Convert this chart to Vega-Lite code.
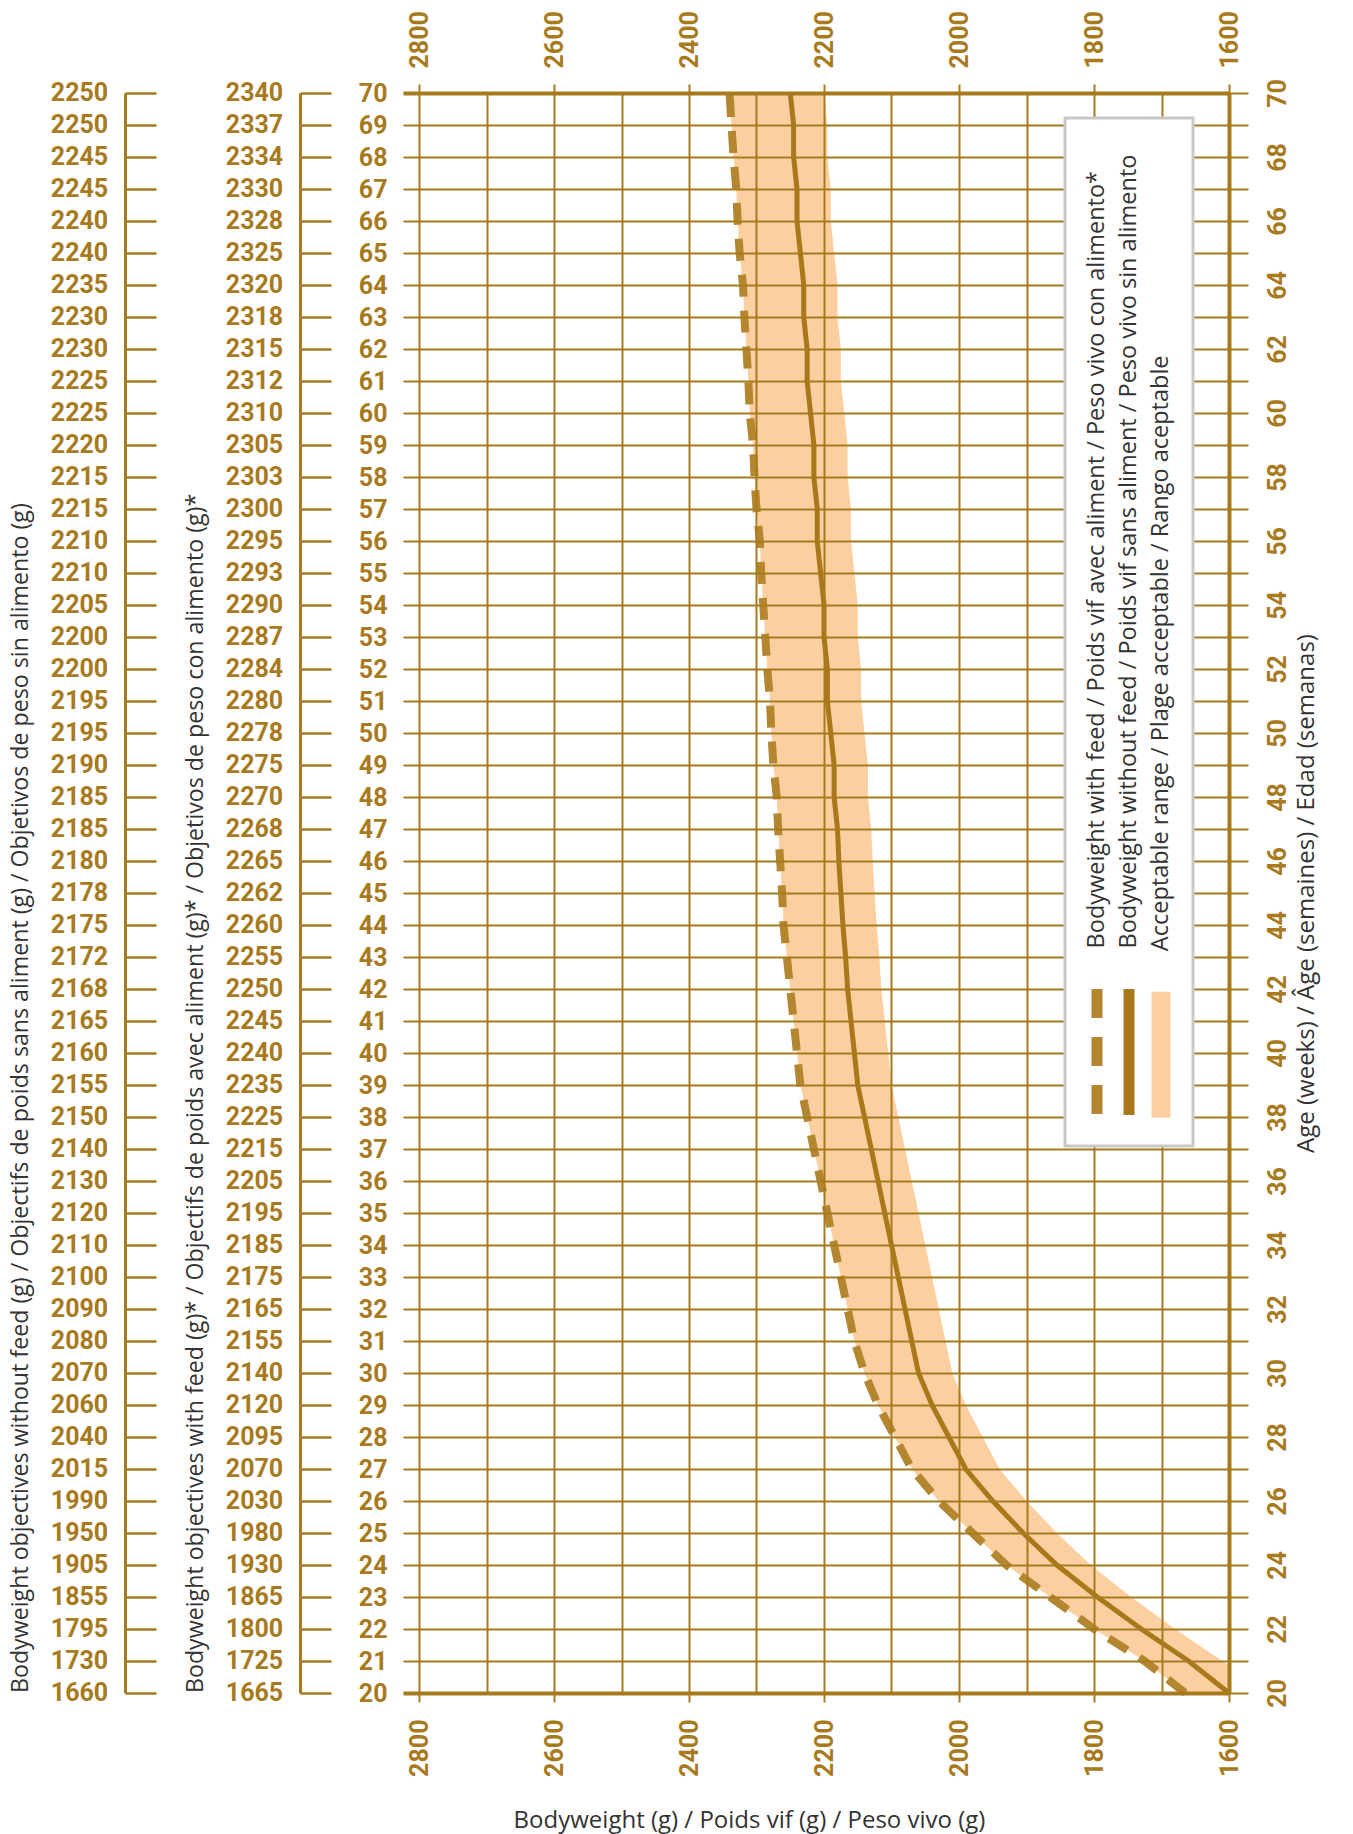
{
  "$schema": "https://vega.github.io/schema/vega-lite/v6.json",
  "padding": {"left": 8, "top": 10, "right": 5, "bottom": 5},
  "background": "white",
  "datasets": {
    "weights": [
      {"age": 20, "avec": 1665, "sans": 1660, "line": 1600, "lo": 1550},
      {"age": 21, "avec": 1725, "sans": 1730, "line": 1660, "lo": 1610},
      {"age": 22, "avec": 1800, "sans": 1795, "line": 1730, "lo": 1680},
      {"age": 23, "avec": 1865, "sans": 1855, "line": 1795, "lo": 1745},
      {"age": 24, "avec": 1930, "sans": 1905, "line": 1855, "lo": 1805},
      {"age": 25, "avec": 1980, "sans": 1950, "line": 1905, "lo": 1855},
      {"age": 26, "avec": 2030, "sans": 1990, "line": 1950, "lo": 1900},
      {"age": 27, "avec": 2070, "sans": 2015, "line": 1990, "lo": 1940},
      {"age": 28, "avec": 2095, "sans": 2040, "line": 2015, "lo": 1965},
      {"age": 29, "avec": 2120, "sans": 2060, "line": 2040, "lo": 1990},
      {"age": 30, "avec": 2140, "sans": 2070, "line": 2060, "lo": 2010},
      {"age": 31, "avec": 2155, "sans": 2080, "line": 2070, "lo": 2020},
      {"age": 32, "avec": 2165, "sans": 2090, "line": 2080, "lo": 2030},
      {"age": 33, "avec": 2175, "sans": 2100, "line": 2090, "lo": 2040},
      {"age": 34, "avec": 2185, "sans": 2110, "line": 2100, "lo": 2050},
      {"age": 35, "avec": 2195, "sans": 2120, "line": 2110, "lo": 2060},
      {"age": 36, "avec": 2205, "sans": 2130, "line": 2120, "lo": 2070},
      {"age": 37, "avec": 2215, "sans": 2140, "line": 2130, "lo": 2080},
      {"age": 38, "avec": 2225, "sans": 2150, "line": 2140, "lo": 2090},
      {"age": 39, "avec": 2235, "sans": 2155, "line": 2150, "lo": 2100},
      {"age": 40, "avec": 2240, "sans": 2160, "line": 2155, "lo": 2105},
      {"age": 41, "avec": 2245, "sans": 2165, "line": 2160, "lo": 2110},
      {"age": 42, "avec": 2250, "sans": 2168, "line": 2165, "lo": 2115},
      {"age": 43, "avec": 2255, "sans": 2172, "line": 2168, "lo": 2118},
      {"age": 44, "avec": 2260, "sans": 2175, "line": 2172, "lo": 2122},
      {"age": 45, "avec": 2262, "sans": 2178, "line": 2175, "lo": 2125},
      {"age": 46, "avec": 2265, "sans": 2180, "line": 2178, "lo": 2128},
      {"age": 47, "avec": 2268, "sans": 2185, "line": 2180, "lo": 2130},
      {"age": 48, "avec": 2270, "sans": 2185, "line": 2185, "lo": 2135},
      {"age": 49, "avec": 2275, "sans": 2190, "line": 2185, "lo": 2135},
      {"age": 50, "avec": 2278, "sans": 2195, "line": 2190, "lo": 2140},
      {"age": 51, "avec": 2280, "sans": 2195, "line": 2195, "lo": 2145},
      {"age": 52, "avec": 2284, "sans": 2200, "line": 2195, "lo": 2145},
      {"age": 53, "avec": 2287, "sans": 2200, "line": 2200, "lo": 2150},
      {"age": 54, "avec": 2290, "sans": 2205, "line": 2200, "lo": 2150},
      {"age": 55, "avec": 2293, "sans": 2210, "line": 2205, "lo": 2155},
      {"age": 56, "avec": 2295, "sans": 2210, "line": 2210, "lo": 2160},
      {"age": 57, "avec": 2300, "sans": 2215, "line": 2210, "lo": 2160},
      {"age": 58, "avec": 2303, "sans": 2215, "line": 2215, "lo": 2165},
      {"age": 59, "avec": 2305, "sans": 2220, "line": 2215, "lo": 2165},
      {"age": 60, "avec": 2310, "sans": 2225, "line": 2220, "lo": 2170},
      {"age": 61, "avec": 2312, "sans": 2225, "line": 2225, "lo": 2175},
      {"age": 62, "avec": 2315, "sans": 2230, "line": 2225, "lo": 2175},
      {"age": 63, "avec": 2318, "sans": 2230, "line": 2230, "lo": 2180},
      {"age": 64, "avec": 2320, "sans": 2235, "line": 2230, "lo": 2180},
      {"age": 65, "avec": 2325, "sans": 2240, "line": 2235, "lo": 2185},
      {"age": 66, "avec": 2328, "sans": 2240, "line": 2240, "lo": 2190},
      {"age": 67, "avec": 2330, "sans": 2245, "line": 2240, "lo": 2190},
      {"age": 68, "avec": 2334, "sans": 2245, "line": 2245, "lo": 2195},
      {"age": 69, "avec": 2337, "sans": 2250, "line": 2245, "lo": 2195},
      {"age": 70, "avec": 2340, "sans": 2250, "line": 2250, "lo": 2200}
    ]
  },
  "data": {"name": "weights"},
  "config": {
    "view": {"stroke": null},
    "axis": {
      "labelFont": "Roboto",
      "labelFontWeight": "bold",
      "labelFontSize": 25,
      "labelColor": "#A87A1E",
      "titleFont": "Open Sans",
      "titleFontSize": 24,
      "titleFontWeight": "normal",
      "titleColor": "#333333",
      "gridColor": "#A87A1E",
      "gridOpacity": 1,
      "tickColor": "#A87A1E",
      "domain": false
    }
  },
  "spacing": 25,
  "resolve": {"scale": {"color": "independent"}, "legend": {"color": "independent"}},
  "hconcat": [
    {
      "width": 91,
      "height": 1600,
      "title": {
        "text": "Bodyweight objectives without feed (g) / Objectifs de poids sans aliment (g) / Objetivos de peso sin alimento (g)",
        "orient": "left",
        "anchor": "start",
        "frame": "group",
        "font": "Open Sans",
        "fontSize": 23.2,
        "fontWeight": "normal",
        "color": "#333333",
        "offset": 1
      },
      "mark": {"type": "text", "font": "Roboto", "fontSize": 25, "fontWeight": "bold", "color": "#A87A1E", "baseline": "middle"},
      "encoding": {
        "y": {
          "field": "age",
          "type": "quantitative",
          "scale": {"domain": [20, 70], "nice": false, "zero": false},
          "axis": {
            "orient": "right",
            "values": [20,21,22,23,24,25,26,27,28,29,30,31,32,33,34,35,36,37,38,39,40,41,42,43,44,45,46,47,48,49,50,51,52,53,54,55,56,57,58,59,60,61,62,63,64,65,66,67,68,69,70],
            "labels": false,
            "title": null,
            "grid": false,
            "domain": true,
            "domainColor": "#A87A1E",
            "domainWidth": 3,
            "ticks": true,
            "tickSize": 31,
            "tickWidth": 2.5
          }
        },
        "text": {"field": "sans", "type": "quantitative", "format": "d"}
      }
    },
    {
      "width": 91,
      "height": 1600,
      "title": {
        "text": "Bodyweight objectives with feed (g)* / Objectifs de poids avec aliment (g)* / Objetivos de peso con alimento (g)*",
        "orient": "left",
        "anchor": "start",
        "frame": "group",
        "font": "Open Sans",
        "fontSize": 23.2,
        "fontWeight": "normal",
        "color": "#333333",
        "offset": 1
      },
      "mark": {"type": "text", "font": "Roboto", "fontSize": 25, "fontWeight": "bold", "color": "#A87A1E", "baseline": "middle"},
      "encoding": {
        "y": {
          "field": "age",
          "type": "quantitative",
          "scale": {"domain": [20, 70], "nice": false, "zero": false},
          "axis": {
            "orient": "right",
            "values": [20,21,22,23,24,25,26,27,28,29,30,31,32,33,34,35,36,37,38,39,40,41,42,43,44,45,46,47,48,49,50,51,52,53,54,55,56,57,58,59,60,61,62,63,64,65,66,67,68,69,70],
            "labels": false,
            "title": null,
            "grid": false,
            "domain": true,
            "domainColor": "#A87A1E",
            "domainWidth": 3,
            "ticks": true,
            "tickSize": 31,
            "tickWidth": 2.5
          }
        },
        "text": {"field": "avec", "type": "quantitative", "format": "d"}
      }
    },
    {
      "width": 810,
      "height": 1600,
      "resolve": {"axis": {"x": "independent", "y": "independent"}},
      "layer": [
        {
          "mark": {"type": "area", "orient": "horizontal", "clip": true, "opacity": 1},
          "encoding": {
            "y": {
              "field": "age",
              "type": "quantitative",
              "scale": {"domain": [20, 70], "nice": false, "zero": false},
              "axis": {
                "orient": "left",
                "zindex": 1,
                "values": [20,21,22,23,24,25,26,27,28,29,30,31,32,33,34,35,36,37,38,39,40,41,42,43,44,45,46,47,48,49,50,51,52,53,54,55,56,57,58,59,60,61,62,63,64,65,66,67,68,69,70],
                "format": "d",
                "title": null,
                "grid": true,
                "gridWidth": {"condition": {"test": "datum.value === 20 || datum.value === 70", "value": 4}, "value": 2},
                "tickSize": 16,
                "tickWidth": {"condition": {"test": "datum.value === 20 || datum.value === 70", "value": 4}, "value": 2},
                "labelPadding": 16,
                "labelOverlap": false
              }
            },
            "x": {
              "field": "avec",
              "type": "quantitative",
              "stack": null,
              "scale": {"domain": [1600, 2800], "reverse": true, "nice": false, "zero": false},
              "axis": {
                "orient": "bottom",
                "zindex": 1,
                "values": [1600,1700,1800,1900,2000,2100,2200,2300,2400,2500,2600,2700,2800],
                "format": "d",
                "grid": true,
                "gridWidth": {"condition": {"test": "datum.value === 1600", "value": 4}, "value": 2},
                "tickSize": 9,
                "tickWidth": 2,
                "tickOpacity": {"condition": {"test": "datum.value % 200 === 0", "value": 1}, "value": 0},
                "labelExpr": "datum.value % 200 === 0 ? datum.label : ''",
                "labelAngle": 270,
                "labelPadding": 17,
                "labelOverlap": false,
                "title": "Bodyweight (g) / Poids vif (g) / Peso vivo (g)",
                "titleX": 330,
                "titleY": 134,
                "titleAlign": "center",
                "titleBaseline": "alphabetic"
              }
            },
            "x2": {"field": "lo"},
            "color": {
              "datum": "Acceptable range / Plage acceptable / Rango aceptable",
              "type": "nominal",
              "scale": {
                "domain": [
                  "Bodyweight with feed / Poids vif avec aliment / Peso vivo con alimento*",
                  "Bodyweight without feed / Poids vif sans aliment / Peso vivo sin alimento",
                  "Acceptable range / Plage acceptable / Rango aceptable"
                ],
                "range": ["#B3862F", "#A8781A", "#FBCFA0"]
              },
              "legend": {
                "orient": "none",
                "legendX": 646,
                "legendY": 25,
                "direction": "horizontal",
                "title": " ",
                "titleOrient": "bottom",
                "titleFontSize": 1,
                "titlePadding": 4,
                "gridAlign": "each",
                "zindex": 2,
                "symbolType": "M0,133V153",
                "symbolSize": 159,
                "symbolStrokeWidth": 11,
                "labelFont": "Open Sans",
                "labelFontSize": 23.5,
                "labelColor": "#333333",
                "labelLimit": 0,
                "labelOffset": -12,
                "columnPadding": 7,
                "padding": 20,
                "strokeColor": "#c8c8c8",
                "fillColor": "#ffffff",
                "encoding": {
                  "legend": {"strokeWidth": {"value": 3}},
                  "labels": {"angle": {"value": -90}, "dx": {"value": -798}},
                  "symbols": {
                    "shape": {"condition": {"test": "datum.value === 'Acceptable range / Plage acceptable / Rango aceptable'", "value": "M-1.5,133H1.5V153H-1.5Z"}, "value": "M0,133V153"},
                    "fill": {"condition": {"test": "datum.value === 'Acceptable range / Plage acceptable / Rango aceptable'", "value": "#FBCFA0"}, "value": "transparent"},
                    "stroke": {"condition": {"test": "datum.value === 'Acceptable range / Plage acceptable / Rango aceptable'", "value": "transparent"}, "value": "#A8781A"},
                    "strokeOpacity": {"condition": {"test": "datum.value === 'Acceptable range / Plage acceptable / Rango aceptable'", "value": 0}, "value": 1},
                    "strokeDash": {"condition": {"test": "datum.value === 'Bodyweight with feed / Poids vif avec aliment / Peso vivo con alimento*'", "value": [29, 19]}, "value": [1000, 0]},
                    "strokeCap": {"value": "butt"},
                    "strokeJoin": {"value": "bevel"},
                    "opacity": {"value": 1}
                  }
                }
              }
            }
          }
        },
        {
          "mark": {"type": "line", "strokeWidth": 8, "strokeDash": [22, 14], "strokeCap": "butt"},
          "encoding": {
            "y": {
              "field": "age",
              "type": "quantitative",
              "axis": {
                "orient": "right",
                "zindex": 1,
                "values": [20,21,22,23,24,25,26,27,28,29,30,31,32,33,34,35,36,37,38,39,40,41,42,43,44,45,46,47,48,49,50,51,52,53,54,55,56,57,58,59,60,61,62,63,64,65,66,67,68,69,70],
                "format": "d",
                "grid": false,
                "tickSize": 19,
                "tickWidth": 2,
                "labelExpr": "datum.value % 2 === 0 ? datum.label : ''",
                "labelAngle": 270,
                "labelAlign": "center",
                "labelBaseline": "top",
                "labelPadding": 17,
                "labelOverlap": false,
                "title": "Age (weeks) / Âge (semaines) / Edad (semanas)",
                "titleAngle": 270,
                "titleBaseline": "top",
                "titlePadding": 4
              }
            },
            "x": {
              "field": "avec",
              "type": "quantitative",
              "axis": {
                "orient": "top",
                "zindex": 1,
                "values": [1600,1800,2000,2200,2400,2600,2800],
                "format": "d",
                "grid": false,
                "tickSize": 9,
                "tickWidth": 2,
                "labelAngle": 270,
                "labelPadding": 16,
                "labelOverlap": false,
                "title": null
              }
            },
            "order": {"field": "age", "type": "quantitative"},
            "color": {"datum": "Bodyweight with feed / Poids vif avec aliment / Peso vivo con alimento*", "type": "nominal"}
          }
        },
        {
          "mark": {"type": "line", "strokeWidth": 5},
          "encoding": {
            "y": {"field": "age", "type": "quantitative", "axis": null},
            "x": {"field": "line", "type": "quantitative", "axis": null},
            "order": {"field": "age", "type": "quantitative"},
            "color": {"datum": "Bodyweight without feed / Poids vif sans aliment / Peso vivo sin alimento", "type": "nominal"}
          }
        }
      ]
    }
  ]
}
